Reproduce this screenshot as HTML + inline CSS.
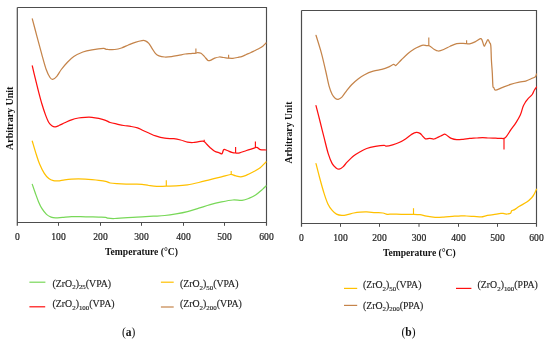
<!DOCTYPE html>
<html><head><meta charset="utf-8"><style>
html,body{margin:0;padding:0;background:#fff;}
body{width:550px;height:343px;overflow:hidden;}
svg{display:block;will-change:transform;}
text{font-family:"Liberation Serif",serif;fill:#1a1a1a;}
.tl text{font-size:9.6px;text-anchor:middle;fill:#222;stroke:#222;stroke-width:0.2px;}
.at{font-size:9.6px;font-weight:bold;text-anchor:middle;fill:#111;}
.lg{font-size:9.8px;fill:#222;stroke:#222;stroke-width:0.15px;}
.sb{font-size:6.9px;}
.pl{font-size:11.5px;text-anchor:middle;fill:#111;}
</style></head><body>
<svg width="550" height="343" viewBox="0 0 550 343">
<rect width="550" height="343" fill="#fff"/>
<path d="M17.3 7.5H266.5V225.8" stroke="#4d4d4d" stroke-width="1.15" fill="none"/><path d="M17.3 7.5V225.8M17.3 222.5H266.5" stroke="#4d4d4d" stroke-width="1.2" fill="none"/><path d="M58.5 222.5V225.8M100.5 222.5V225.8M141.5 222.5V225.8M183.5 222.5V225.8M224.5 222.5V225.8" stroke="#4d4d4d" stroke-width="1" fill="none"/><g class="tl"><text x="17.3" y="240.2">0</text><text x="58.5" y="240.2">100</text><text x="100.5" y="240.2">200</text><text x="141.5" y="240.2">300</text><text x="183.5" y="240.2">400</text><text x="224.5" y="240.2">500</text><text x="266.5" y="240.2">600</text></g>
<path d="M32.3 18.8C33.08 21.77 35.45 30.8 37 36.6C38.55 42.4 40.07 48.12 41.6 53.6C43.13 59.08 44.8 65.52 46.2 69.5C47.6 73.48 48.92 75.87 50 77.5C51.08 79.13 51.57 79.48 52.7 79.3C53.83 79.12 55.37 78.03 56.8 76.4C58.23 74.77 59.6 71.78 61.3 69.5C63 67.22 64.92 64.85 67 62.7C69.08 60.55 71.15 58.38 73.8 56.6C76.45 54.82 79.87 53.13 82.9 52C85.93 50.87 88.58 50.4 92 49.8C95.42 49.2 101.07 48.48 103.4 48.4C105.73 48.32 105.23 49.12 106 49.3C106.77 49.48 106.55 49.47 108 49.5C109.45 49.53 112.45 49.75 114.7 49.5C116.95 49.25 119.22 48.75 121.5 48C123.78 47.25 126.12 45.95 128.4 45C130.68 44.05 132.93 43.03 135.2 42.3C137.47 41.57 140.3 40.85 142 40.6C143.7 40.35 144.27 40.33 145.4 40.8C146.53 41.27 147.67 42.1 148.8 43.4C149.93 44.7 151.07 46.9 152.2 48.6C153.33 50.3 154.47 52.38 155.6 53.6C156.73 54.82 157.48 55.33 159 55.9C160.52 56.47 162.62 56.88 164.7 57C166.78 57.12 169.22 56.87 171.5 56.6C173.78 56.33 176.12 55.83 178.4 55.4C180.68 54.97 183.12 54.3 185.2 54C187.28 53.7 189.12 53.73 190.9 53.6C192.68 53.47 194.77 53.38 195.9 53.2C197.03 53.02 196.85 52.5 197.7 52.5C198.55 52.5 199.87 52.52 201 53.2C202.13 53.88 203.35 55.4 204.5 56.6C205.65 57.8 206.95 59.77 207.9 60.4C208.85 61.03 209.07 60.77 210.2 60.4C211.33 60.03 213.18 58.77 214.7 58.2C216.22 57.63 217.78 57.12 219.3 57C220.82 56.88 222.25 57.3 223.8 57.5C225.35 57.7 227.08 58.07 228.6 58.2C230.12 58.33 231.28 58.45 232.9 58.3C234.52 58.15 236.73 57.63 238.3 57.3C239.87 56.97 240.95 56.77 242.3 56.3C243.65 55.83 245.03 55.1 246.4 54.5C247.77 53.9 249.13 53.33 250.5 52.7C251.87 52.07 253.23 51.37 254.6 50.7C255.97 50.03 257.33 49.45 258.7 48.7C260.07 47.95 261.58 47.15 262.8 46.2C264.02 45.25 265.47 43.53 266 43" stroke="#c5844a" stroke-width="1.25" fill="none" stroke-linejoin="round" stroke-linecap="round"/><path d="M195.9 53.2V48.4M228.6 58.2V54.7" stroke="#c5844a" stroke-width="1.15" fill="none"/>
<path d="M32.3 65.8C32.78 67.87 34.15 73.87 35.2 78.2C36.25 82.53 37.47 87.45 38.6 91.8C39.73 96.15 40.87 100.5 42 104.3C43.13 108.1 44.27 111.57 45.4 114.6C46.53 117.63 47.67 120.6 48.8 122.5C49.93 124.4 51.13 125.28 52.2 126C53.27 126.72 54.07 126.88 55.2 126.8C56.33 126.72 57.42 126.17 59 125.5C60.58 124.83 62.62 123.75 64.7 122.8C66.78 121.85 69.22 120.6 71.5 119.8C73.78 119 76.12 118.42 78.4 118C80.68 117.58 82.93 117.42 85.2 117.3C87.47 117.18 89.73 117.12 92 117.3C94.27 117.48 96.53 117.9 98.8 118.4C101.07 118.9 103.7 119.62 105.6 120.3C107.5 120.98 108.3 121.87 110.2 122.5C112.1 123.13 114.73 123.6 117 124.1C119.27 124.6 121.53 125.12 123.8 125.5C126.07 125.88 128.32 126.02 130.6 126.4C132.88 126.78 135.6 127.2 137.5 127.8C139.4 128.4 140.12 129.13 142 130C143.88 130.87 146.53 132.02 148.8 133C151.07 133.98 152.95 135.03 155.6 135.9C158.25 136.77 161.67 137.73 164.7 138.2C167.73 138.67 171.15 138.4 173.8 138.7C176.45 139 178.32 139.43 180.6 140C182.88 140.57 185.42 141.68 187.5 142.1C189.58 142.52 191.22 142.58 193.1 142.5C194.98 142.42 197.02 141.78 198.8 141.6C200.58 141.42 202.47 140.95 203.8 141.4C205.13 141.85 205.73 143.25 206.8 144.3C207.87 145.35 208.88 146.55 210.2 147.7C211.52 148.85 213.18 150.35 214.7 151.2C216.22 152.05 218.08 152.38 219.3 152.8C220.52 153.22 221.25 154.23 222 153.7C222.75 153.17 222.93 150.13 223.8 149.6C224.67 149.07 225.87 150.05 227.2 150.5C228.53 150.95 230.4 151.88 231.8 152.3C233.2 152.72 234.28 152.92 235.6 153C236.92 153.08 237.88 153.22 239.7 152.8C241.52 152.38 244.22 151.23 246.5 150.5C248.78 149.77 251.68 148.93 253.4 148.4C255.12 147.87 255.67 147.1 256.8 147.3C257.93 147.5 258.67 149.15 260.2 149.6C261.73 150.05 265.03 149.93 266 150" stroke="#ff0f0f" stroke-width="1.25" fill="none" stroke-linejoin="round" stroke-linecap="round"/><path d="M235.6 153V147M255.4 148V141.5M204.2 141.2V139.8" stroke="#ff0f0f" stroke-width="1.15" fill="none"/>
<path d="M32.3 141.2C32.97 143.42 35.07 150.65 36.3 154.5C37.53 158.35 38.37 161.15 39.7 164.3C41.03 167.45 42.78 171.02 44.3 173.4C45.82 175.78 47.28 177.38 48.8 178.6C50.32 179.82 51.88 180.32 53.4 180.7C54.92 181.08 56.02 181.05 57.9 180.9C59.78 180.75 62.43 180.1 64.7 179.8C66.97 179.5 69.22 179.25 71.5 179.1C73.78 178.95 76.12 178.9 78.4 178.9C80.68 178.9 82.93 178.98 85.2 179.1C87.47 179.22 89.73 179.4 92 179.6C94.27 179.8 96.53 180 98.8 180.3C101.07 180.6 103.7 180.95 105.6 181.4C107.5 181.85 108.3 182.62 110.2 183C112.1 183.38 114.35 183.52 117 183.7C119.65 183.88 123.07 184.03 126.1 184.1C129.13 184.17 132.55 184.07 135.2 184.1C137.85 184.13 139.73 184.07 142 184.3C144.27 184.53 146.33 185.15 148.8 185.5C151.27 185.85 153.88 186.3 156.8 186.4C159.72 186.5 163.08 186.18 166.3 186.1C169.52 186.02 172.57 186.12 176.1 185.9C179.63 185.68 183.72 185.37 187.5 184.8C191.28 184.23 195.02 183.37 198.8 182.5C202.58 181.63 206.42 180.55 210.2 179.6C213.98 178.65 218.1 177.65 221.5 176.8C224.9 175.95 228.32 174.68 230.6 174.5C232.88 174.32 233.48 175.32 235.2 175.7C236.92 176.08 239.02 176.88 240.9 176.8C242.78 176.72 244.42 176.03 246.5 175.2C248.58 174.37 251.12 173.05 253.4 171.8C255.68 170.55 258.1 169.33 260.2 167.7C262.3 166.07 265.03 162.95 266 162" stroke="#ffc000" stroke-width="1.25" fill="none" stroke-linejoin="round" stroke-linecap="round"/><path d="M166.3 186.1V180.2M231.2 174.5V171.1" stroke="#ffc000" stroke-width="1.15" fill="none"/>
<path d="M32.3 184.4C32.78 185.8 34.15 189.88 35.2 192.8C36.25 195.72 37.47 199.25 38.6 201.9C39.73 204.55 40.68 206.62 42 208.7C43.32 210.78 44.98 213 46.5 214.4C48.02 215.8 49.58 216.53 51.1 217.1C52.62 217.67 53.7 217.77 55.6 217.8C57.5 217.83 59.85 217.5 62.5 217.3C65.15 217.1 68.48 216.72 71.5 216.6C74.52 216.48 77.57 216.55 80.6 216.6C83.63 216.65 86.67 216.82 89.7 216.9C92.73 216.98 96.15 217.03 98.8 217.1C101.45 217.17 104.08 217.12 105.6 217.3C107.12 217.48 106.38 218 107.9 218.2C109.42 218.4 112.05 218.57 114.7 218.5C117.35 218.43 120.77 218 123.8 217.8C126.83 217.6 129.87 217.45 132.9 217.3C135.93 217.15 138.58 217.08 142 216.9C145.42 216.72 149.62 216.43 153.4 216.2C157.18 215.97 160.92 215.88 164.7 215.5C168.48 215.12 172.3 214.55 176.1 213.9C179.9 213.25 183.72 212.55 187.5 211.6C191.28 210.65 195.02 209.37 198.8 208.2C202.58 207.03 206.42 205.65 210.2 204.6C213.98 203.55 217.72 202.67 221.5 201.9C225.28 201.13 229.48 200.27 232.9 200C236.32 199.73 239.35 200.57 242 200.3C244.65 200.03 246.53 199.28 248.8 198.4C251.07 197.52 253.32 196.5 255.6 195C257.88 193.5 260.77 190.9 262.5 189.4C264.23 187.9 265.42 186.57 266 186" stroke="#78d858" stroke-width="1.25" fill="none" stroke-linejoin="round" stroke-linecap="round"/>
<path d="M301.5 10.5H536.5V226.8" stroke="#4d4d4d" stroke-width="1.15" fill="none"/><path d="M301.5 10.5V226.8M301.5 223.5H536.5" stroke="#4d4d4d" stroke-width="1.2" fill="none"/><path d="M340.5 223.5V226.8M379.5 223.5V226.8M419 223.5V226.8M458.5 223.5V226.8M497.5 223.5V226.8" stroke="#4d4d4d" stroke-width="1" fill="none"/><g class="tl"><text x="301.5" y="240.7">0</text><text x="340.5" y="240.7">100</text><text x="379.5" y="240.7">200</text><text x="419" y="240.7">300</text><text x="458.5" y="240.7">400</text><text x="497.5" y="240.7">500</text><text x="536.5" y="240.7">600</text></g>
<path d="M316 35.3C316.9 38.27 319.78 47.15 321.4 53.1C323.02 59.05 324.43 65.53 325.7 71C326.97 76.47 327.92 81.98 329 85.9C330.08 89.82 331.13 92.42 332.2 94.5C333.27 96.58 334.4 97.6 335.4 98.4C336.4 99.2 337.12 99.52 338.2 99.3C339.28 99.08 340.57 98.43 341.9 97.1C343.23 95.77 344.58 93.35 346.2 91.3C347.82 89.25 349.62 86.85 351.6 84.8C353.58 82.75 355.93 80.68 358.1 79C360.27 77.32 362.08 76 364.6 74.7C367.12 73.4 370.33 72.1 373.2 71.2C376.07 70.3 379.28 69.98 381.8 69.3C384.32 68.62 386.33 67.92 388.3 67.1C390.27 66.28 392.33 64.68 393.6 64.4C394.87 64.12 394.63 66.13 395.9 65.4C397.17 64.67 399.23 61.93 401.2 60C403.17 58.07 405.53 55.63 407.7 53.8C409.87 51.97 412.15 50.27 414.2 49C416.25 47.73 418.5 46.83 420 46.2C421.5 45.57 422.12 45.3 423.2 45.2C424.28 45.1 425.57 45.53 426.5 45.6C427.43 45.67 428.08 45.42 428.8 45.6C429.52 45.78 429.93 46.08 430.8 46.7C431.67 47.32 432.75 48.58 434 49.3C435.25 50.02 436.68 50.97 438.3 51C439.92 51.03 441.72 50.3 443.7 49.5C445.68 48.7 448.03 47.18 450.2 46.2C452.37 45.22 454.55 44.07 456.7 43.6C458.85 43.13 461.45 43.4 463.1 43.4C464.75 43.4 465.52 43.52 466.6 43.6C467.68 43.68 468.2 44.18 469.6 43.9C471 43.62 473.2 42.77 475 41.9C476.8 41.03 479.22 38.98 480.4 38.7C481.58 38.42 481.48 38.98 482.1 40.2C482.72 41.42 483.48 45.47 484.1 46C484.72 46.53 485.17 44.47 485.8 43.4C486.43 42.33 487.28 39.77 487.9 39.6C488.52 39.43 489.02 41.4 489.5 42.4C489.98 43.4 490.48 42.67 490.8 45.6C491.12 48.53 491.15 55.45 491.4 60C491.65 64.55 492.05 68.58 492.3 72.9C492.55 77.22 492.65 83.47 492.9 85.9C493.15 88.33 493.37 86.78 493.8 87.5C494.23 88.22 494.13 90.18 495.5 90.2C496.87 90.22 499.48 88.57 502 87.6C504.52 86.63 507.73 85.3 510.6 84.4C513.47 83.5 516.68 82.75 519.2 82.2C521.72 81.65 523.53 81.75 525.7 81.1C527.87 80.45 530.58 79.02 532.2 78.3C533.82 77.58 534.68 77.52 535.4 76.8C536.12 76.08 536.32 74.47 536.5 74" stroke="#c5844a" stroke-width="1.25" fill="none" stroke-linejoin="round" stroke-linecap="round"/><path d="M428.8 45.6V37.4M466.6 43.6V40.2" stroke="#c5844a" stroke-width="1.15" fill="none"/>
<path d="M316 105.7C316.63 108.17 318.45 115.17 319.8 120.5C321.15 125.83 322.68 132.13 324.1 137.7C325.52 143.27 326.95 149.58 328.3 153.9C329.65 158.22 330.9 161.27 332.2 163.6C333.5 165.93 334.95 166.97 336.1 167.9C337.25 168.83 337.95 169.37 339.1 169.2C340.25 169.03 341.63 168.12 343 166.9C344.37 165.68 345.5 163.77 347.3 161.9C349.1 160.03 351.65 157.38 353.8 155.7C355.95 154.02 358.05 153 360.2 151.8C362.35 150.6 364.18 149.4 366.7 148.5C369.22 147.6 372.42 146.93 375.3 146.4C378.18 145.87 382.2 145.33 384 145.3C385.8 145.27 384.67 146.27 386.1 146.2C387.53 146.13 390.43 145.52 392.6 144.9C394.77 144.28 396.95 143.5 399.1 142.5C401.25 141.5 403.35 140.3 405.5 138.9C407.65 137.5 410.2 135.18 412 134.1C413.8 133.02 414.97 132.52 416.3 132.4C417.63 132.28 419.02 132.87 420 133.4C420.98 133.93 421.3 134.7 422.2 135.6C423.1 136.5 424.15 138.33 425.4 138.8C426.65 139.27 428.27 138.37 429.7 138.4C431.13 138.43 432.57 139.22 434 139C435.43 138.78 437.03 137.67 438.3 137.1C439.57 136.53 440.52 136.1 441.6 135.6C442.68 135.1 443.73 134 444.8 134.1C445.87 134.2 446.92 135.48 448 136.2C449.08 136.92 449.85 137.82 451.3 138.4C452.75 138.98 454.73 139.55 456.7 139.7C458.67 139.85 460.95 139.52 463.1 139.3C465.25 139.08 467.43 138.62 469.6 138.4C471.77 138.18 473.93 138.15 476.1 138C478.27 137.85 480.45 137.5 482.6 137.5C484.75 137.5 486.85 137.88 489 138C491.15 138.12 493.52 138.13 495.5 138.2C497.48 138.27 499.5 138.37 500.9 138.4C502.3 138.43 503 138.68 503.9 138.4C504.8 138.12 505.18 138.07 506.3 136.7C507.42 135.33 508.98 132.55 510.6 130.2C512.22 127.85 514.38 125.12 516 122.6C517.62 120.08 519.12 117.78 520.3 115.1C521.48 112.42 522.2 108.73 523.1 106.5C524 104.27 524.9 102.98 525.7 101.7C526.5 100.42 526.82 100 527.9 98.8C528.98 97.6 531.13 95.93 532.2 94.5C533.27 93.07 533.58 91.45 534.3 90.2C535.02 88.95 536.13 87.53 536.5 87" stroke="#ff0f0f" stroke-width="1.25" fill="none" stroke-linejoin="round" stroke-linecap="round"/><path d="M504 138.4V149.6" stroke="#ff0f0f" stroke-width="1.15" fill="none"/>
<path d="M316 163.6C316.62 166 318.37 173.08 319.7 178C321.03 182.92 322.63 188.78 324 193.1C325.37 197.42 326.53 201.02 327.9 203.9C329.27 206.78 330.77 208.7 332.2 210.4C333.63 212.1 334.88 213.27 336.5 214.1C338.12 214.93 340.1 215.3 341.9 215.4C343.7 215.5 345.32 215.1 347.3 214.7C349.28 214.3 351.65 213.43 353.8 213C355.95 212.57 358.05 212.28 360.2 212.1C362.35 211.92 364.18 211.82 366.7 211.9C369.22 211.98 372.6 212.42 375.3 212.6C378 212.78 380.92 212.72 382.9 213C384.88 213.28 385.58 214.12 387.2 214.3C388.82 214.48 390.27 214.1 392.6 214.1C394.93 214.1 397.78 214.27 401.2 214.3C404.62 214.33 409.97 214.23 413.1 214.3C416.23 214.37 417.77 214.38 420 214.7C422.23 215.02 423.98 215.77 426.5 216.2C429.02 216.63 432.23 217.15 435.1 217.3C437.97 217.45 440.82 217.25 443.7 217.1C446.58 216.95 449.52 216.62 452.4 216.4C455.28 216.18 458.67 215.87 461 215.8C463.33 215.73 464.25 215.9 466.4 216C468.55 216.1 471.38 216.25 473.9 216.4C476.42 216.55 479.52 217 481.5 216.9C483.48 216.8 483.83 216.17 485.8 215.8C487.77 215.43 490.78 215.1 493.3 214.7C495.82 214.3 499.12 213.58 500.9 213.4C502.68 213.22 502.95 213.5 504 213.6C505.05 213.7 506.1 214.07 507.2 214C508.3 213.93 509.85 213.73 510.6 213.2C511.35 212.67 511.05 211.4 511.7 210.8C512.35 210.2 513.22 210.35 514.5 209.6C515.78 208.85 517.35 207.57 519.4 206.3C521.45 205.03 524.75 203.43 526.8 202C528.85 200.57 530.48 198.98 531.7 197.7C532.92 196.42 533.3 195.72 534.1 194.3C534.9 192.88 536.1 190.05 536.5 189.2" stroke="#ffc000" stroke-width="1.25" fill="none" stroke-linejoin="round" stroke-linecap="round"/><path d="M413.5 214.3V208.2" stroke="#ffc000" stroke-width="1.15" fill="none"/>
<text class="at" x="141.5" y="255.0">Temperature (°C)</text>
<text class="at" x="419.3" y="256.0">Temperature (°C)</text>
<text class="at" transform="translate(12.9 118.3) rotate(-90)" textLength="63.3" lengthAdjust="spacingAndGlyphs">Arbitrary Unit</text>
<text class="at" transform="translate(292.1 132.6) rotate(-90)" textLength="62" lengthAdjust="spacingAndGlyphs">Arbitrary Unit</text>
<path d="M29.4 282.2H45.4" stroke="#78d858" stroke-width="1.2"/><text class="lg" x="52.6" y="286.7">(ZrO<tspan class="sb" dy="2.4">2</tspan><tspan dy="-2.4">)</tspan><tspan class="sb" dy="2.4">25</tspan><tspan dy="-2.4">(VPA)</tspan></text>
<path d="M29.4 306.8H45.2" stroke="#ff0f0f" stroke-width="1.2"/><text class="lg" x="52.6" y="307.3">(ZrO<tspan class="sb" dy="2.4">2</tspan><tspan dy="-2.4">)</tspan><tspan class="sb" dy="2.4">100</tspan><tspan dy="-2.4">(VPA)</tspan></text>
<path d="M160.9 282.2H173.7" stroke="#ffc000" stroke-width="1.2"/><text class="lg" x="180" y="287.2">(ZrO<tspan class="sb" dy="2.4">2</tspan><tspan dy="-2.4">)</tspan><tspan class="sb" dy="2.4">50</tspan><tspan dy="-2.4">(VPA)</tspan></text>
<path d="M160.9 307H173.7" stroke="#c5844a" stroke-width="1.2"/><text class="lg" x="180" y="307.3">(ZrO<tspan class="sb" dy="2.4">2</tspan><tspan dy="-2.4">)</tspan><tspan class="sb" dy="2.4">200</tspan><tspan dy="-2.4">(VPA)</tspan></text>
<path d="M344 288.4H357.2" stroke="#ffc000" stroke-width="1.2"/><text class="lg" x="363" y="288.1">(ZrO<tspan class="sb" dy="2.4">2</tspan><tspan dy="-2.4">)</tspan><tspan class="sb" dy="2.4">50</tspan><tspan dy="-2.4">(VPA)</tspan></text>
<path d="M344 305.4H357.2" stroke="#c5844a" stroke-width="1.2"/><text class="lg" x="363" y="308.5">(ZrO<tspan class="sb" dy="2.4">2</tspan><tspan dy="-2.4">)</tspan><tspan class="sb" dy="2.4">200</tspan><tspan dy="-2.4">(PPA)</tspan></text>
<path d="M456 288.4H471.4" stroke="#ff0f0f" stroke-width="1.2"/><text class="lg" x="477.6" y="288.2">(ZrO<tspan class="sb" dy="2.4">2</tspan><tspan dy="-2.4">)</tspan><tspan class="sb" dy="2.4">100</tspan><tspan dy="-2.4">(PPA)</tspan></text>
<text class="pl" x="128.6" y="335.6">(<tspan font-weight="bold">a</tspan>)</text>
<text class="pl" x="408.5" y="335.6">(<tspan font-weight="bold">b</tspan>)</text>
</svg>
</body></html>
